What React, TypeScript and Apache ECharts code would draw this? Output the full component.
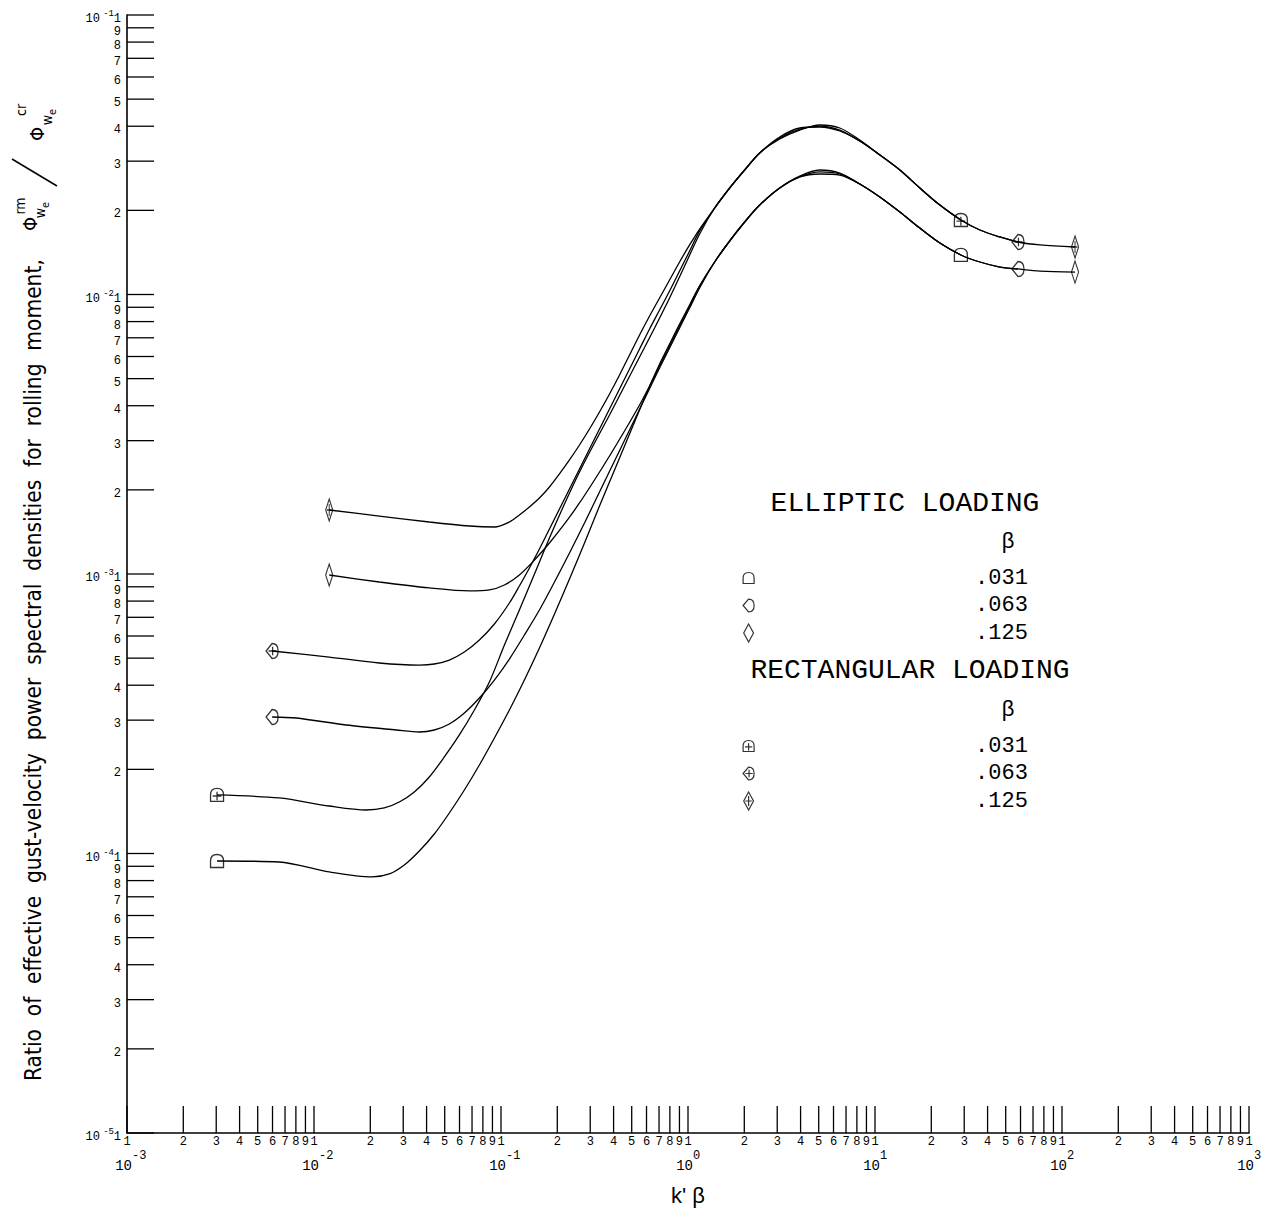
import React, { useEffect, useRef } from 'react';
import * as echarts from 'echarts';

// ---------- axis ticks ----------
const X_DECADES = [-3, -2, -1, 0, 1, 2];
const X_LAST_DECADE = 3;
const Y_DECADES = [-5, -4, -3, -2];
const Y_LAST_DECADE = -1;
const MANTISSAS = [1, 2, 3, 4, 5, 6, 7, 8, 9];
const X_MIN = 1e-3;
const X_MAX = 1e3;
const Y_MIN = 1e-5;
const Y_MAX = 1e-1;

// ---------- data: k'beta (k...) and PSD ratio (r...) ----------
// Elliptic loading
const ellipticK031 = [0.00303, 0.00651, 0.01206, 0.0205, 0.02527, 0.0304, 0.03657, 0.04399, 0.05293, 0.06369, 0.07662, 0.0922, 0.1109, 0.1334, 0.1605, 0.1932, 0.2324, 0.2796, 0.3363, 0.4047, 0.4869, 0.5856, 0.7047, 0.7971, 0.9016, 1.02, 1.154, 1.388, 1.67, 2.009, 2.417, 3.093, 3.958, 5.065, 6.48, 8.291, 10.61, 13.58, 17.37, 22.23, 28.79];
const ellipticR031 = [0.00009401, 0.00009324, 0.00008589, 0.00008242, 0.00008448, 0.00009094, 0.0001021, 0.0001174, 0.0001396, 0.0001687, 0.0002073, 0.000259, 0.0003262, 0.0004175, 0.0005435, 0.0007193, 0.0009596, 0.001291, 0.001751, 0.002355, 0.003168, 0.004262, 0.005642, 0.006651, 0.007845, 0.009173, 0.01073, 0.01307, 0.01554, 0.01817, 0.0209, 0.02405, 0.02633, 0.02699, 0.02676, 0.02485, 0.02233, 0.01973, 0.01729, 0.01529, 0.01385];

const ellipticK063 = [0.00597, 0.00803, 0.01487, 0.02754, 0.03657, 0.04399, 0.05293, 0.06369, 0.07662, 0.0922, 0.1109, 0.1334, 0.1605, 0.1932, 0.2324, 0.2796, 0.3363, 0.4047, 0.4869, 0.5856, 0.7047, 0.7971, 0.9016, 1.02, 1.154, 1.388, 1.67, 2.009, 2.417, 3.093, 3.958, 5.065, 6.48, 8.291, 10.61, 13.58, 17.37, 22.23, 28.79, 36.39, 46.57, 58.14];
const ellipticR063 = [0.0003079, 0.0003054, 0.0002882, 0.0002766, 0.0002721, 0.0002766, 0.0002906, 0.0003181, 0.0003599, 0.0004175, 0.0004964, 0.000605, 0.0007433, 0.0009362, 0.001189, 0.001522, 0.001965, 0.002537, 0.003275, 0.004227, 0.005459, 0.006436, 0.007589, 0.008946, 0.01055, 0.01307, 0.01554, 0.01817, 0.0209, 0.02405, 0.02654, 0.02789, 0.02721, 0.02485, 0.02233, 0.01973, 0.01729, 0.01529, 0.01385, 0.01307, 0.01254, 0.01234];

const ellipticK125 = [0.01206, 0.02234, 0.04136, 0.06773, 0.08667, 0.1043, 0.1254, 0.151, 0.1816, 0.2185, 0.2629, 0.3162, 0.3805, 0.4577, 0.5508, 0.623, 0.7047, 0.7971, 0.9016, 1.02, 1.154, 1.388, 1.67, 2.009, 2.417, 3.093, 3.958, 5.065, 6.48, 8.291, 10.61, 13.58, 17.37, 22.23, 28.79, 36.39, 46.57, 58.14, 76.24, 117.4];
const ellipticR125 = [0.0009918, 0.0009362, 0.0008913, 0.0008695, 0.0008767, 0.0009132, 0.0009918, 0.001122, 0.001291, 0.00151, 0.001795, 0.002169, 0.002644, 0.003248, 0.004024, 0.004706, 0.005549, 0.006542, 0.007715, 0.009097, 0.01073, 0.01307, 0.01554, 0.01817, 0.0209, 0.02405, 0.02633, 0.02744, 0.02699, 0.02485, 0.02233, 0.01973, 0.01729, 0.01529, 0.01385, 0.01307, 0.01254, 0.01234, 0.01213, 0.01203];

// Rectangular loading
const rectK031 = [0.00303, 0.00651, 0.01206, 0.01903, 0.02376, 0.02858, 0.03439, 0.04136, 0.04977, 0.05988, 0.07206, 0.08667, 0.1043, 0.1254, 0.151, 0.1816, 0.2185, 0.2629, 0.3162, 0.3805, 0.4577, 0.5508, 0.6627, 0.7971, 0.959, 1.154, 1.388, 1.67, 2.009, 2.417, 3.093, 3.958, 5.065, 6.48, 8.291, 10.61, 13.58, 17.37, 22.23, 28.79];
const rectR031 = [0.000162, 0.000158, 0.0001479, 0.0001431, 0.0001455, 0.0001528, 0.000166, 0.0001878, 0.0002215, 0.0002655, 0.0003262, 0.0004107, 0.0005571, 0.0007433, 0.001, 0.001345, 0.00178, 0.002317, 0.002943, 0.003706, 0.004706, 0.005977, 0.007589, 0.009716, 0.01264, 0.01646, 0.02039, 0.02405, 0.02789, 0.03209, 0.0363, 0.03908, 0.04006, 0.03876, 0.03541, 0.03158, 0.02789, 0.02405, 0.0209, 0.01847];

const rectK063 = [0.00597, 0.01206, 0.02234, 0.03657, 0.04399, 0.05293, 0.06369, 0.07662, 0.0922, 0.1109, 0.1254, 0.1419, 0.1605, 0.1816, 0.2054, 0.2324, 0.2629, 0.2973, 0.3363, 0.3805, 0.4304, 0.4869, 0.5508, 0.623, 0.7047, 0.7971, 0.9016, 1.02, 1.154, 1.388, 1.67, 2.009, 2.417, 3.093, 3.958, 5.065, 6.48, 8.291, 10.61, 13.58, 17.37, 22.23, 28.79, 36.39, 46.57, 58.14];
const rectR063 = [0.0005302, 0.0005046, 0.0004803, 0.0004724, 0.0004764, 0.0004923, 0.0005258, 0.0005805, 0.0006624, 0.0007874, 0.0009058, 0.001051, 0.001229, 0.001449, 0.001708, 0.002014, 0.002375, 0.0028, 0.003302, 0.003894, 0.00459, 0.005414, 0.006383, 0.007527, 0.0088, 0.01029, 0.01213, 0.0143, 0.01688, 0.02039, 0.02405, 0.02789, 0.03209, 0.036, 0.03876, 0.0404, 0.03942, 0.03571, 0.03158, 0.02789, 0.02405, 0.0209, 0.01847, 0.01701, 0.01606, 0.01541];

const rectK125 = [0.01206, 0.02234, 0.04136, 0.06773, 0.0922, 0.1109, 0.1254, 0.1419, 0.1605, 0.1816, 0.2054, 0.2324, 0.2629, 0.2973, 0.3363, 0.3805, 0.4304, 0.4869, 0.5508, 0.623, 0.7047, 0.7971, 0.9016, 1.02, 1.154, 1.388, 1.67, 2.009, 2.417, 3.093, 3.958, 5.065, 6.48, 8.291, 10.61, 13.58, 17.37, 22.23, 28.79, 36.39, 46.57, 58.14, 76.24, 117.4];
const rectR125 = [0.001694, 0.001612, 0.001535, 0.001485, 0.001473, 0.001535, 0.001626, 0.001737, 0.00187, 0.002048, 0.00228, 0.002559, 0.002894, 0.003302, 0.003799, 0.004405, 0.005153, 0.006076, 0.007162, 0.008377, 0.009716, 0.01127, 0.01307, 0.01504, 0.01715, 0.02039, 0.02405, 0.02789, 0.03209, 0.0366, 0.03942, 0.03975, 0.03846, 0.03541, 0.03158, 0.02789, 0.02405, 0.0209, 0.01847, 0.01701, 0.01606, 0.01541, 0.01504, 0.01479];

const BETA_LABELS = ['.031', '.063', '.125'];
const Y_TITLE_WORDS = ['Ratio', 'of', 'effective', 'gust-velocity', 'power', 'spectral', 'densities', 'for', 'rolling', 'moment,'];

// ---------- styles ----------
const MONO = '"Liberation Mono", "DejaVu Sans Mono", monospace';
const COND = '"DejaVu Sans Condensed", "Liberation Sans Narrow", "Roboto Condensed", "Noto Sans", sans-serif';
const SANS = '"Liberation Sans", Arial, sans-serif';

const DOME = 'path://M0 12 L0 6 Q0 0 6 0 Q12 0 12 6 L12 12 Z';
const DOME_PLUS = DOME + ' M6 3 L6 11 M2 7 L10 7';
const LEMON = 'path://M0 7 L6 0 Q12 0 12 7 Q12 14 6 14 Z';
const LEMON_PLUS = LEMON + ' M6.5 3 L6.5 11 M2.5 7 L10.5 7';
const KITE = 'path://M6 0 L12 11 L6 22 L0 11 Z';
const KITE_PLUS = KITE + ' M6 5 L6 17 M2 11 L10 11';

const CURVES = [
  { name: 'Elliptic β .031', group: 0, beta: 0, k: ellipticK031, r: ellipticR031, symbol: DOME, size: [13, 13] },
  { name: 'Elliptic β .063', group: 0, beta: 1, k: ellipticK063, r: ellipticR063, symbol: LEMON, size: [14, 15] },
  { name: 'Elliptic β .125', group: 0, beta: 2, k: ellipticK125, r: ellipticR125, symbol: KITE, size: [13, 22] },
  { name: 'Rectangular β .031', group: 1, beta: 0, k: rectK031, r: rectR031, symbol: DOME_PLUS, size: [13, 13] },
  { name: 'Rectangular β .063', group: 1, beta: 1, k: rectK063, r: rectR063, symbol: LEMON_PLUS, size: [14, 15] },
  { name: 'Rectangular β .125', group: 1, beta: 2, k: rectK125, r: rectR125, symbol: KITE_PLUS, size: [13, 22] },
];

const xTicks = X_DECADES.flatMap((d) => MANTISSAS.map((m) => ({ m, d, v: m * Math.pow(10, d) }))).concat([
  { m: 1, d: X_LAST_DECADE, v: Math.pow(10, X_LAST_DECADE) },
]);
const yTicks = Y_DECADES.flatMap((d) => MANTISSAS.map((m) => ({ m, d, v: m * Math.pow(10, d) }))).concat([
  { m: 1, d: Y_LAST_DECADE, v: Math.pow(10, Y_LAST_DECADE) },
]);

const txt = (text: string, x: number, y: number, size: number, family: string, align = 'center', vAlign = 'middle') => ({
  type: 'text',
  x,
  y,
  silent: true,
  style: { text, fill: '#000', fontSize: size, fontFamily: family, align, verticalAlign: vAlign },
});

function buildOption(): any {
  const lineSeries = CURVES.map((c) => ({
    type: 'line',
    name: c.name + ' curve',
    data: c.k.map((k, i) => [k, c.r[i]]),
    showSymbol: false,
    smooth: 0.3,
    lineStyle: { color: '#000', width: 1.3 },
    silent: true,
    z: 2,
  }));
  const markerSeries = CURVES.map((c) => ({
    type: 'scatter',
    name: c.name,
    data: [
      [c.k[0], c.r[0]],
      [c.k[c.k.length - 1], c.r[c.r.length - 1]],
    ],
    symbol: c.symbol,
    symbolSize: c.size,
    symbolKeepAspect: true,
    itemStyle: { color: 'rgba(255,255,255,0)', borderColor: '#000', borderWidth: 1.3 },
    silent: true,
    z: 3,
  }));

  const xTickSeries = {
    type: 'custom',
    name: 'x ticks',
    silent: true,
    z: 4,
    data: xTicks.map((t) => [t.v, Y_MIN]),
    renderItem: (params: any, api: any) => {
      const t = xTicks[params.dataIndex];
      const p = api.coord([t.v, Y_MIN]);
      const children: any[] = [
        { type: 'line', shape: { x1: p[0], y1: p[1], x2: p[0], y2: p[1] - 27 }, style: { stroke: '#000', lineWidth: 1.3 } },
        txt(String(t.m), p[0], p[1] + 9, 12, MONO),
      ];
      if (t.m === 1) {
        children.push(txt('10', p[0] + 5, p[1] + 33, 14, MONO, 'right'));
        children.push(txt(String(t.d), p[0] + 5, p[1] + 23, 12, MONO, 'left'));
      }
      return { type: 'group', children };
    },
  };

  const yTickSeries = {
    type: 'custom',
    name: 'y ticks',
    silent: true,
    z: 4,
    data: yTicks.map((t) => [X_MIN, t.v]),
    renderItem: (params: any, api: any) => {
      const t = yTicks[params.dataIndex];
      const p = api.coord([X_MIN, t.v]);
      const children: any[] = [
        { type: 'line', shape: { x1: p[0], y1: p[1], x2: p[0] + 27, y2: p[1] }, style: { stroke: '#000', lineWidth: 1.3 } },
        txt(String(t.m), p[0] - 6, p[1] + 4, 12, MONO, 'right'),
      ];
      if (t.m === 1) {
        children.push(txt('10', p[0] - 27, p[1] + 4, 12, MONO, 'right'));
        children.push(txt(String(t.d), p[0] - 13, p[1] - 1, 9, MONO, 'right'));
      }
      return { type: 'group', children };
    },
  };

  const legendBase = {
    orient: 'vertical',
    selectedMode: false,
    padding: 0,
    itemWidth: 11,
    itemHeight: 18,
    itemGap: 5.5,
    itemStyle: { color: 'rgba(255,255,255,0)', borderColor: '#000', borderWidth: 1.2 },
    textStyle: { color: '#000', fontSize: 22, lineHeight: 22, fontFamily: MONO, padding: [0, 0, 0, 216] },
    formatter: (name: string) => {
      const c = CURVES.find((cc) => cc.name === name);
      return c ? BETA_LABELS[c.beta] : name;
    },
  };

  const SEP = ' \u00A0';
  // Y axis title (rotated, reads bottom to top)
  const yTitle = {
    type: 'group',
    x: 33,
    y: 1081,
    rotation: Math.PI / 2,
    silent: true,
    children: [
      txt(Y_TITLE_WORDS.join(SEP), 0, 0, 22.5, COND, 'left'),
      txt('Φ', 857, -3, 20, COND),
      txt('rm', 875, -13, 14, COND),
      txt('w', 868, 7, 14, COND),
      txt('e', 876, 12, 11, COND),
      { type: 'line', shape: { x1: 895, y1: 24, x2: 922, y2: -21 }, style: { stroke: '#000', lineWidth: 1.5 } },
      txt('Φ', 947, 4, 20, COND),
      txt('cr', 971, -12, 14, COND),
      txt('w', 961, 14, 14, COND),
      txt('e', 969, 19, 11, COND),
    ],
  };

  return {
    animation: false,
    backgroundColor: '#fff',
    grid: { left: 127, right: 13, top: 15, bottom: 81 },
    xAxis: {
      type: 'log',
      logBase: 10,
      min: X_MIN,
      max: X_MAX,
      axisLine: { show: true, onZero: false, lineStyle: { color: '#000', width: 1.6 } },
      axisTick: { show: false },
      axisLabel: { show: false },
      splitLine: { show: false },
      name: "k' β",
      nameLocation: 'middle',
      nameGap: 51,
      nameTextStyle: { fontSize: 22, fontFamily: SANS, color: '#000' },
    },
    yAxis: {
      type: 'log',
      logBase: 10,
      min: Y_MIN,
      max: Y_MAX,
      axisLine: { show: true, onZero: false, lineStyle: { color: '#000', width: 1.6 } },
      axisTick: { show: false },
      axisLabel: { show: false },
      splitLine: { show: false },
    },
    legend: [
      { ...legendBase, left: 742.5, top: 567, data: CURVES.filter((c) => c.group === 0).map((c) => c.name) },
      { ...legendBase, left: 742.5, top: 735, data: CURVES.filter((c) => c.group === 1).map((c) => c.name) },
    ],
    graphic: [
      txt('ELLIPTIC LOADING', 905, 503, 28, MONO),
      txt('β', 1008, 540, 22, SANS),
      txt('RECTANGULAR LOADING', 910, 670, 28, MONO),
      txt('β', 1008, 708, 22, SANS),
      yTitle,
    ],
    series: [...lineSeries, ...markerSeries, xTickSeries, yTickSeries],
  };
}

export default function App() {
  const ref = useRef<HTMLDivElement>(null);
  useEffect(() => {
    if (!ref.current) return;
    const chart = echarts.init(ref.current, null, { renderer: 'svg' });
    chart.setOption(buildOption());
    return () => chart.dispose();
  }, []);
  return (
    <div
      ref={ref}
      style={{ position: 'absolute', left: 0, top: 0, width: 1262, height: 1214, background: '#fff' }}
    />
  );
}
